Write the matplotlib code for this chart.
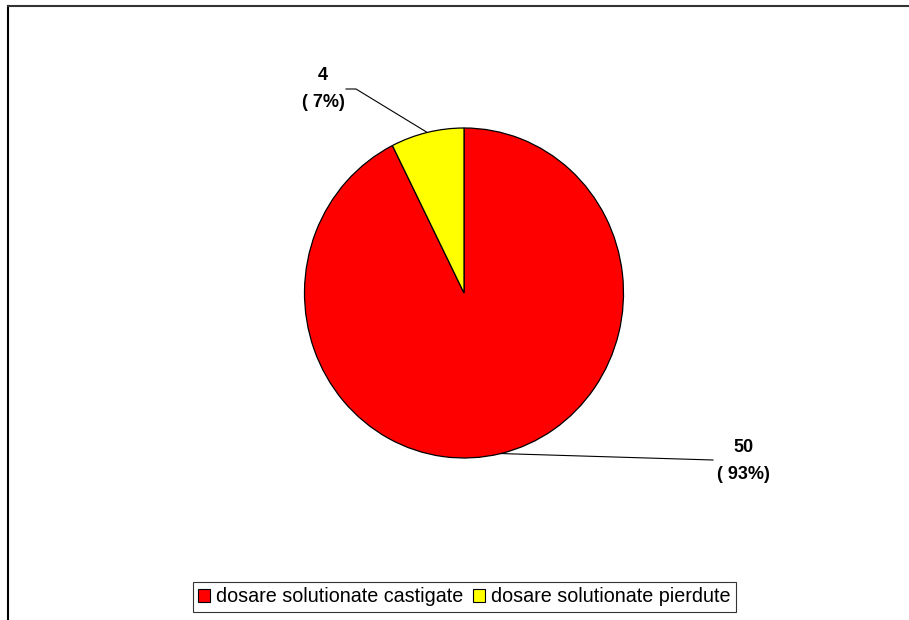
import numpy as np
import matplotlib.pyplot as plt
from matplotlib.lines import Line2D
from matplotlib.patches import Patch

labels = ['dosare solutionate castigate', 'dosare solutionate pierdute']
counts = [50, 4]
colors = ['#FF0000', '#FFFF00']

plt.rcParams['font.family'] = ['Liberation Sans', 'DejaVu Sans']

W, H = 909, 620
fig = plt.figure(figsize=(W / 100, H / 100), dpi=100)

def px(x, y):
    return x / W, 1 - y / H

# outer chart frame (only left and top edges visible)
fig.add_artist(Line2D([px(8, 0)[0], px(8, 0)[0]], [0, px(0, 6)[1]], color='black', lw=1.5))
fig.add_artist(Line2D([px(8, 0)[0], 1], [px(0, 6)[1], px(0, 6)[1]], color='#333333', lw=1.5))

# pie axes: center (464, 293), rx 159, ry 165
cx, cy, rx, ry = 464, 293, 159.5, 165
l, b = px(cx - rx, cy + ry)
ax = fig.add_axes([l, b, 2 * rx / W, 2 * ry / H])

wedges, _ = ax.pie(counts, colors=colors, startangle=90, counterclock=False,
                   wedgeprops=dict(edgecolor='black', linewidth=0.9))
ax.set_xlim(-1, 1)
ax.set_ylim(-1, 1)
ax.set_aspect('auto')
ax.axis('off')

total = sum(counts)
text_pos = [(743, 461), (323, 89)]
line_end = [(713, 460), (356, 89)]
for w, n, tp, le in zip(wedges, counts, text_pos, line_end):
    ang = np.deg2rad((w.theta1 + w.theta2) / 2)
    xd, yd = np.cos(ang), np.sin(ang)
    pct = round(100 * n / total)
    tx, ty = px(*le)
    xy_fig = fig.transFigure.inverted().transform(ax.transData.transform((xd, yd)))
    if le[0] < cx:
        fig.add_artist(Line2D([px(346, 0)[0], tx, xy_fig[0]], [ty, ty, xy_fig[1]], color='black', lw=0.8))
    else:
        fig.add_artist(Line2D([xy_fig[0], tx], [xy_fig[1], ty], color='black', lw=0.8))
    fig.text(*px(*tp), f'{n}\n( {pct}%)', ha='center', va='center',
             fontsize=13, fontweight='bold', linespacing=1.7)

handles = [Patch(facecolor=c, edgecolor='black', linewidth=0.8) for c in colors]
leg = fig.legend(handles, labels, loc='center', bbox_to_anchor=px(464.5, 597), ncol=2,
                 frameon=True, fancybox=False, edgecolor='black', fontsize=14.2,
                 handlelength=0.6, handleheight=0.6, handletextpad=0.3, columnspacing=0.5,
                 borderpad=0.3, borderaxespad=0)
leg.get_frame().set_linewidth(0.8)

fig.savefig('out.png', dpi=100)
